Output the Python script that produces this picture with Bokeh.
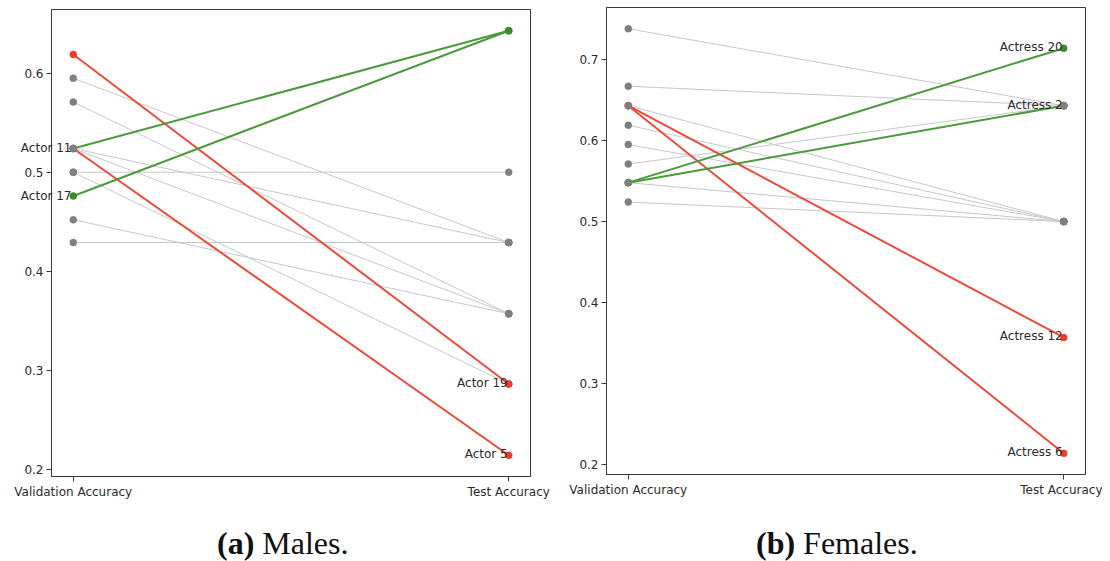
from bokeh.plotting import figure
from bokeh.models import ColumnDataSource, Range1d, FixedTicker, Div, Label, LinearAxis
from bokeh.layouts import row, column
from bokeh.embed import file_html
from bokeh.resources import INLINE

# ---------------- data ----------------
stages = ["Validation Accuracy", "Test Accuracy"]

# Males (panel a)
male_validation = [0.500, 0.619, 0.524, 0.524, 0.476, 0.595, 0.571, 0.524, 0.524, 0.500, 0.452, 0.429]
male_test       = [0.286, 0.286, 0.214, 0.643, 0.643, 0.429, 0.357, 0.429, 0.357, 0.500, 0.357, 0.429]
male_status     = ["gray", "red", "red", "green", "green", "gray", "gray", "gray", "gray", "gray", "gray", "gray"]
male_labels     = ["", "Actor 19", "Actor 5", "Actor 11", "Actor 17", "", "", "", "", "", "", ""]
male_label_at   = ["", "Test Accuracy", "Test Accuracy", "Validation Accuracy", "Validation Accuracy",
                   "", "", "", "", "", "", ""]
male_yticks = [0.2, 0.3, 0.4, 0.5, 0.6]

# Females (panel b)
female_validation = [0.643, 0.643, 0.548, 0.548, 0.738, 0.667, 0.643, 0.619, 0.595, 0.571, 0.548, 0.524]
female_test       = [0.357, 0.214, 0.714, 0.643, 0.643, 0.643, 0.500, 0.500, 0.500, 0.643, 0.500, 0.500]
female_status     = ["red", "red", "green", "green", "gray", "gray", "gray", "gray", "gray", "gray", "gray", "gray"]
female_labels     = ["Actress 12", "Actress 6", "Actress 20", "Actress 2", "", "", "", "", "", "", "", ""]
female_label_at   = ["Test Accuracy"] * 4 + [""] * 8
female_yticks = [0.2, 0.3, 0.4, 0.5, 0.6, 0.7]

captions = [("(a)", "Males."), ("(b)", "Females.")]

# ---------------- styles ----------------
LINE_COL = {"gray": "#c8c8c8", "red": "#ec4b3b", "green": "#4b9a3d"}
DOT_COL = {"gray": "#7f7f7f", "red": "#f03a2a", "green": "#3b8b2c"}
LINE_W = {"gray": 1.0, "red": 2.0, "green": 2.0}
FONT = "DejaVu Sans"
TXT = "#2b2b2b"


def panel(val, test, status, labels, label_at, yticks, bl, br, bt, bb):
    pos = {s: i for i, s in enumerate(stages)}
    allv = list(val) + list(test)
    lo, hi = min(allv), max(allv)
    pad = 0.05 * (hi - lo)
    p = figure(frame_width=479, frame_height=467,
               x_range=Range1d(-0.05, len(stages) - 1 + 0.05),
               y_range=Range1d(lo - pad, hi + pad),
               output_backend="svg", toolbar_location=None,
               min_border_left=bl, min_border_right=br,
               min_border_top=bt, min_border_bottom=bb)
    p.grid.visible = False
    p.outline_line_color = "#3a3a3a"
    p.outline_line_width = 1
    p.background_fill_color = "white"
    p.border_fill_color = "white"

    for ax in (p.xaxis[0], p.yaxis[0]):
        ax.axis_line_color = "#3a3a3a"
        ax.major_tick_line_color = "#3a3a3a"
        ax.major_tick_out = 5
        ax.major_tick_in = 0
        ax.minor_tick_line_color = None
        ax.major_label_text_font = FONT
        ax.major_label_text_font_size = "12px"
        ax.major_label_text_color = TXT
        ax.major_label_standoff = 3
    p.xaxis.ticker = FixedTicker(ticks=list(range(len(stages))))
    p.xaxis.major_label_overrides = {i: s for i, s in enumerate(stages)}
    p.yaxis.ticker = FixedTicker(ticks=yticks)
    p.yaxis.major_label_overrides = {t: f"{t:.1f}" for t in yticks}

    x0 = [pos[stages[0]]] * len(val)
    x1 = [pos[stages[1]]] * len(val)
    data = dict(
        x0=x0, x1=x1, y0=list(val), y1=list(test),
        lc=[LINE_COL[s] for s in status],
        lw=[LINE_W[s] for s in status],
    )
    # lines: gray first, coloured on top
    for group in (["gray"], ["red", "green"]):
        idx = [i for i, s in enumerate(status) if s in group]
        sub = ColumnDataSource({k: [data[k][i] for i in idx] for k in data})
        p.segment(x0="x0", y0="y0", x1="x1", y1="y1", source=sub,
                  line_color="lc", line_width="lw")

    # labels on the test side: annotations inside the frame
    left_ticks, left_text = [], []
    for i, lab in enumerate(labels):
        if not lab:
            continue
        if label_at[i] == stages[0]:
            # validation side labels cross the y axis: show them as labels of
            # an invisible secondary axis so that they are not clipped
            left_ticks.append(val[i])
            left_text.append(lab)
        else:
            p.add_layout(Label(x=pos[label_at[i]], y=test[i], text=lab,
                               text_align="right", text_baseline="middle",
                               x_offset=-1, y_offset=1, text_font=FONT,
                               text_font_size="12px", text_color=TXT))
    if left_ticks:
        lab_axis = LinearAxis(ticker=FixedTicker(ticks=left_ticks),
                              major_label_overrides=dict(zip(left_ticks, left_text)),
                              axis_line_color=None, major_tick_line_color=None,
                              minor_tick_line_color=None,
                              major_tick_out=0, major_tick_in=0,
                              major_label_standoff=-50,
                              major_label_text_font=FONT,
                              major_label_text_font_size="12px",
                              major_label_text_color=TXT)
        p.add_layout(lab_axis, "left")

    # markers in drawing order
    mx, my, mc = [], [], []
    for i in range(len(val)):
        mx += [x0[i], x1[i]]
        my += [val[i], test[i]]
        mc += [DOT_COL[status[i]]] * 2
    p.scatter(x=mx, y=my, size=7, fill_color=mc, line_color=mc, line_width=0.5)
    return p


p1 = panel(male_validation, male_test, male_status, male_labels, male_label_at,
           male_yticks, bl=51, br=25, bt=9, bb=30)
p2 = panel(female_validation, female_test, female_status, female_labels, female_label_at,
           female_yticks, bl=51, br=17, bt=7, bb=32)


def cap(tag, word, left):
    html = ('<div style="font-family:\'Liberation Serif\',\'DejaVu Serif\',serif;'
            'font-size:32px;line-height:32px;white-space:nowrap;color:#111;'
            f'padding-left:{left}px;padding-top:21px;">'
            f'<b>{tag}</b> {word}</div>')
    return Div(text=html, width=547, height=52, margin=(0, 0, 0, 0))


c1 = cap(captions[0][0], captions[0][1], 217)
c2 = cap(captions[1][0], captions[1][1], 201)

layout = row(column(p1, c1, spacing=0), column(p2, c2, spacing=0), spacing=0)

open("out.html", "w").write(file_html(layout, INLINE))
